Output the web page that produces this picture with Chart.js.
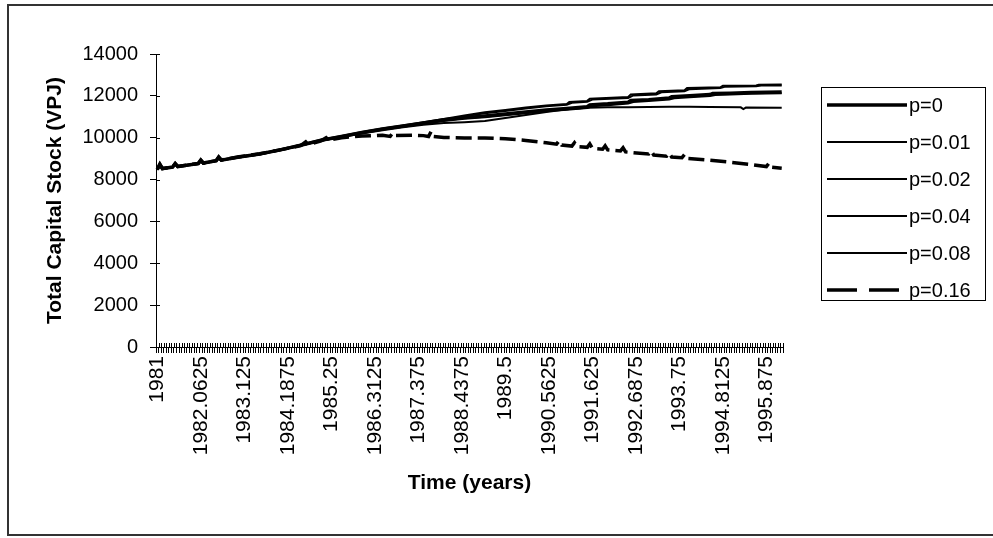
<!DOCTYPE html>
<html>
<head>
<meta charset="utf-8">
<script src="https://cdn.jsdelivr.net/npm/chart.js@4.4.1/dist/chart.umd.min.js"></script>
<style>
  html, body { margin: 0; padding: 0; background: #fff; }
  #wrap { position: relative; width: 993px; height: 538px; overflow: hidden; }
  #frame { position: absolute; left: 7px; top: 4px; width: 1010px; height: 532px; border: 2px solid #333; box-sizing: border-box; }
  canvas { position: absolute; left: 0; top: 0; }
</style>
</head>
<body>
<div id="wrap">
  <div id="frame"></div>
  <canvas id="stockChart" width="993" height="538"></canvas>
</div>
<script>
// time axis: one category per 1/16 year, a label on every 17th
const startYear = 1981;
const timeStep = 0.0625;
const stepCount = 245;
const shownTicks = ['1981', '1982.0625', '1983.125', '1984.1875', '1985.25', '1986.3125', '1987.375',
  '1988.4375', '1989.5', '1990.5625', '1991.625', '1992.6875', '1993.75', '1994.8125', '1995.875'];
const yTicks = [0, 2000, 4000, 6000, 8000, 10000, 12000, 14000];

const seriesNames = ['p=0', 'p=0.01', 'p=0.02', 'p=0.04', 'p=0.08', 'p=0.16'];

// [time, total capital stock]
const stockP0 = [
  [1981, 8480], [1981.0625, 8720], [1981.125, 8520], [1981.375, 8600], [1981.4375, 8760], [1981.5, 8620],
  [1981.75, 8700], [1982, 8760], [1982.0625, 8920], [1982.125, 8790], [1982.4375, 8900], [1982.5, 9060],
  [1982.5625, 8930], [1983, 9080], [1983.5, 9220], [1984, 9420], [1984.5, 9640], [1985, 9880], [1985.5, 10060],
  [1986, 10250], [1986.5, 10420], [1987, 10560], [1987.5, 10710], [1988, 10860], [1988.5, 10960], [1989, 11040],
  [1989.5, 11130], [1990, 11230], [1990.5, 11320], [1991, 11400], [1991.5, 11480], [1991.5625, 11570],
  [1992, 11620], [1992.5, 11700], [1992.5625, 11780], [1993, 11820], [1993.5, 11900], [1993.5625, 11960],
  [1994, 12000], [1994.5, 12060], [1994.5625, 12110], [1995, 12130], [1995.5, 12160], [1996.25, 12190]
];
const stockP001 = [
  [1981, 8500], [1981.0625, 8700], [1981.125, 8540], [1981.375, 8610], [1981.4375, 8740], [1981.5, 8640],
  [1982, 8780], [1982.0625, 8900], [1982.125, 8800], [1982.4375, 8910], [1982.5, 9040], [1982.5625, 8950],
  [1983, 9100], [1983.5, 9240], [1984, 9440], [1984.5, 9660], [1985, 9900], [1985.5, 10080], [1986, 10270],
  [1986.5, 10440], [1987, 10590], [1987.5, 10740], [1988, 10900], [1988.5, 11060], [1989, 11220], [1989.5, 11320],
  [1990, 11440], [1990.5, 11540], [1991, 11610], [1991.0625, 11710], [1991.5, 11760], [1991.5625, 11860],
  [1992.5, 11950], [1992.5625, 12070], [1993.1875, 12120], [1993.25, 12220], [1993.875, 12270], [1993.9375, 12370],
  [1994.75, 12410], [1994.8125, 12480], [1995.625, 12500], [1995.6875, 12530], [1996.25, 12540]
];
const stockP002 = [
  [1981, 8470], [1981.0625, 8690], [1981.125, 8510], [1981.375, 8590], [1981.4375, 8730], [1981.5, 8610],
  [1982, 8750], [1982.0625, 8880], [1982.125, 8770], [1982.4375, 8890], [1982.5, 9020], [1982.5625, 8920],
  [1983, 9070], [1983.5, 9210], [1984, 9410], [1984.5, 9630], [1985, 9870], [1985.5, 10050], [1986, 10240],
  [1986.5, 10410], [1987, 10560], [1987.5, 10720], [1988, 10870], [1988.5, 11020], [1989, 11170], [1989.5, 11280],
  [1990, 11400], [1990.5, 11500], [1991, 11570], [1991.125, 11670], [1991.5, 11720], [1991.625, 11820],
  [1992.5, 11900], [1992.625, 12020], [1993.1875, 12070], [1993.3125, 12170], [1993.875, 12220], [1994, 12320],
  [1994.75, 12370], [1994.875, 12440], [1995.625, 12460], [1995.75, 12490], [1996.25, 12500]
];
const stockP004 = [
  [1981, 8460], [1981.0625, 8680], [1981.125, 8500], [1981.375, 8580], [1981.4375, 8720], [1981.5, 8600],
  [1982, 8740], [1982.0625, 8870], [1982.125, 8760], [1982.4375, 8880], [1982.5, 9000], [1982.5625, 8910],
  [1983, 9060], [1983.5, 9200], [1984, 9400], [1984.5, 9620], [1985, 9860], [1985.5, 10040], [1986, 10230],
  [1986.5, 10390], [1987, 10520], [1987.5, 10660], [1988, 10800], [1988.5, 10900], [1989, 10980], [1989.5, 11070],
  [1990, 11170], [1990.5, 11260], [1991, 11340], [1991.5, 11420], [1991.625, 11500], [1992, 11550],
  [1992.5, 11630], [1992.625, 11710], [1993, 11750], [1993.5, 11830], [1993.625, 11890], [1994, 11930],
  [1994.5, 11990], [1994.625, 12040], [1995, 12060], [1995.5, 12100], [1996.25, 12130]
];
const stockP008 = [
  [1981, 8490], [1981.0625, 8710], [1981.125, 8530], [1981.375, 8600], [1981.4375, 8750], [1981.5, 8630],
  [1982, 8770], [1982.0625, 8910], [1982.125, 8780], [1982.4375, 8900], [1982.5, 9050], [1982.5625, 8940],
  [1983, 9080], [1983.5, 9220], [1984, 9420], [1984.5, 9630], [1985, 9860], [1985.5, 10030], [1986, 10200],
  [1986.5, 10360], [1987, 10500], [1987.5, 10620], [1988, 10700], [1988.5, 10740], [1989, 10800], [1989.5, 10940],
  [1990, 11080], [1990.5, 11230], [1991, 11360], [1991.5, 11430], [1992, 11450], [1992.5, 11460], [1993, 11470],
  [1993.5, 11480], [1994, 11480], [1994.5, 11470], [1995.25, 11450], [1995.3125, 11370], [1995.375, 11440],
  [1996.25, 11430]
];
const stockP016 = [
  [1981, 8490], [1981.0625, 8740], [1981.125, 8530], [1981.375, 8610], [1981.4375, 8770], [1981.5, 8630],
  [1982, 8770], [1982.0625, 8930], [1982.125, 8790], [1982.4375, 8900], [1982.5, 9080], [1982.5625, 8940],
  [1983, 9090], [1983.5, 9230], [1984, 9420], [1984.5, 9620], [1984.625, 9800], [1984.6875, 9660], [1985, 9850],
  [1985.125, 10000], [1985.1875, 9880], [1985.5, 10000], [1986, 10080], [1986.5, 10120], [1986.6875, 10060],
  [1986.75, 10230], [1986.8125, 10110], [1987.25, 10120], [1987.5, 10100], [1987.625, 10060], [1987.6875, 10300],
  [1987.75, 10060], [1988, 10010], [1988.5, 9990], [1989, 9990], [1989.5, 9950], [1990, 9870], [1990.5, 9760],
  [1990.75, 9690], [1990.8125, 9850], [1990.875, 9650], [1991.125, 9600], [1991.1875, 9760], [1991.25, 9570],
  [1991.5, 9540], [1991.5625, 9700], [1991.625, 9490], [1991.875, 9450], [1991.9375, 9610], [1992, 9420],
  [1992.3125, 9370], [1992.375, 9520], [1992.4375, 9320], [1993, 9220], [1993.0625, 9370], [1993.125, 9170],
  [1993.4375, 9120], [1993.5, 9270], [1993.5625, 9080], [1993.8125, 9040], [1993.875, 9190], [1993.9375, 9010],
  [1994.5, 8920], [1995, 8830], [1995.5, 8720], [1995.875, 8620], [1995.9375, 8780], [1996, 8590], [1996.25, 8540]
];

const timeLabels = Array.from({ length: stepCount }, (_, i) => String(startYear + i * timeStep));

const toPoints = rows => rows.map(([t, v]) => ({ x: String(t), y: v }));

const lineStyle = (label, rows, width, dash) => ({
  label,
  data: toPoints(rows),
  borderColor: '#000',
  backgroundColor: '#000',
  borderWidth: width,
  borderDash: dash,
  pointRadius: 0,
  tension: 0,
  fill: false
});

Chart.defaults.font.family = '"Liberation Sans", Arial, sans-serif';
Chart.defaults.color = '#000';

// tick marks that cross the axes (the library only draws the outer half)
const crossTicks = {
  id: 'crossTicks',
  afterDraw(chart) {
    const { ctx, chartArea, scales } = chart;
    ctx.save();
    ctx.strokeStyle = '#000';
    ctx.lineWidth = 1;
    ctx.beginPath();
    const slot = (chartArea.right - chartArea.left) / stepCount;
    for (let i = 0; i <= stepCount; i++) {
      const x = Math.round(chartArea.left + i * slot) + 0.5;
      ctx.moveTo(x, chartArea.bottom);
      ctx.lineTo(x, chartArea.bottom - 4);
    }
    yTicks.forEach(v => {
      const y = Math.round(scales.y.getPixelForValue(v)) + 0.5;
      ctx.moveTo(chartArea.left, y);
      ctx.lineTo(chartArea.left + 4, y);
    });
    ctx.stroke();
    ctx.restore();
  }
};

// legend drawn as a framed box to the right of the plot
const boxLegend = {
  id: 'boxLegend',
  afterDraw(chart) {
    const ctx = chart.ctx;
    const left = 821.5, top = 87.5, width = 164, height = 213;
    ctx.save();
    ctx.strokeStyle = '#000';
    ctx.lineWidth = 1;
    ctx.setLineDash([]);
    ctx.strokeRect(left, top, width, height);
    ctx.font = '20px "Liberation Sans", Arial, sans-serif';
    ctx.fillStyle = '#000';
    ctx.textBaseline = 'middle';
    chart.data.datasets.forEach((ds, i) => {
      const y = 105 + i * 37;
      ctx.beginPath();
      ctx.lineWidth = ds.borderWidth;
      ctx.setLineDash(ds.borderDash.length ? [30, 12] : []);
      ctx.moveTo(827, y);
      ctx.lineTo(907, y);
      ctx.stroke();
      ctx.fillText(ds.label, 909, y + 1);
    });
    ctx.restore();
  }
};

new Chart(document.getElementById('stockChart'), {
  type: 'line',
  data: {
    labels: timeLabels,
    datasets: [
      lineStyle(seriesNames[0], stockP0, 3.5, []),
      lineStyle(seriesNames[1], stockP001, 2, []),
      lineStyle(seriesNames[2], stockP002, 2, []),
      lineStyle(seriesNames[3], stockP004, 2, []),
      lineStyle(seriesNames[4], stockP008, 2, []),
      lineStyle(seriesNames[5], stockP016, 3.5, [16, 6])
    ]
  },
  options: {
    responsive: false,
    animation: false,
    layout: { padding: { left: 0, top: 54, right: 210, bottom: 0 } },
    plugins: { legend: { display: false }, tooltip: { enabled: false } },
    scales: {
      x: {
        type: 'category',
        offset: true,
        grid: { display: true, drawOnChartArea: false, drawTicks: true, tickLength: 6, color: '#000', offset: true },
        border: { display: true, color: '#000', width: 1 },
        ticks: {
          autoSkip: false,
          minRotation: 90,
          maxRotation: 90,
          padding: 3,
          font: { size: 21 },
          callback(value, index) {
            const lab = timeLabels[index];
            return shownTicks.includes(lab) ? lab : '';
          }
        },
        title: {
          display: true,
          text: 'Time (years)',
          font: { size: 21, weight: 'bold' },
          padding: { top: 0, bottom: 42 }
        },
        afterFit(scale) { scale.height = 191; }
      },
      y: {
        min: yTicks[0],
        max: yTicks[yTicks.length - 1],
        grid: { display: true, drawOnChartArea: false, drawTicks: true, tickLength: 6, color: '#000' },
        border: { display: true, color: '#000', width: 1 },
        afterBuildTicks(scale) { scale.ticks = yTicks.map(v => ({ value: v })); },
        ticks: {
          padding: 12,
          font: { size: 20 },
          callback: v => String(v)
        },
        title: {
          display: true,
          text: 'Total Capital Stock (VPJ)',
          font: { size: 21, weight: 'bold' },
          padding: { top: 43, bottom: 0 }
        },
        afterFit(scale) { scale.width = 156; }
      }
    }
  },
  plugins: [crossTicks, boxLegend]
});
</script>
</body>
</html>
